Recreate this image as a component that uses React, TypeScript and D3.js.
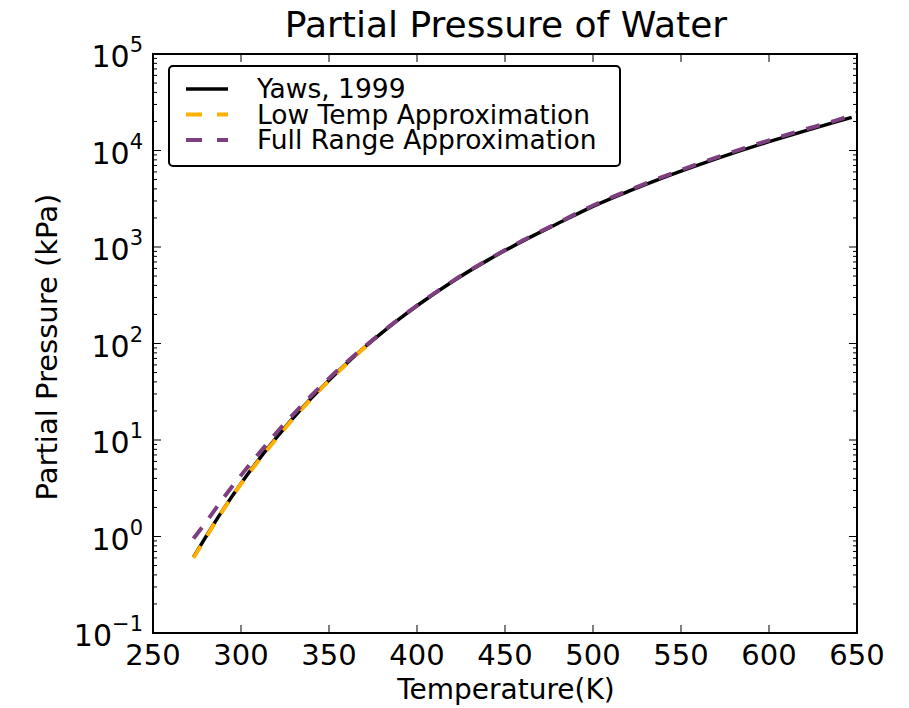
import React, { useEffect, useRef } from "react";
import * as d3 from "d3";

// Yaws, 1999 (K, kPa)
const yawsT = [273, 280, 290, 300, 310, 320, 330, 340, 350, 360, 370, 380, 390, 400, 420, 440, 460, 480, 500, 520, 540, 560, 580, 600, 620, 640, 647];
const yawsP = [0.61, 0.99, 1.92, 3.54, 6.23, 10.5, 17.2, 27.2, 41.7, 62.2, 90.8, 129, 180, 246, 437, 727, 1150, 1750, 2640, 3770, 5240, 7100, 9450, 12340, 15900, 20260, 22060];

const lowT = [273, 280, 290, 300, 310, 320, 330, 340, 350, 360, 373];
const lowP = [0.6, 0.97, 1.9, 3.5, 6.1, 10.3, 16.9, 26.8, 41.2, 61.5, 101];

const fullT = [273, 280, 290, 300, 310, 320, 330, 340, 350, 360, 370, 380, 390, 400, 420, 440, 460, 480, 500, 520, 540, 560, 580, 600, 620, 640, 650];
const fullP = [0.95, 1.4, 2.5, 4.3, 7.2, 11.8, 18.7, 28.9, 43.5, 64, 92, 130, 181, 247, 440, 733, 1165, 1775, 2690, 3850, 5370, 7300, 9750, 12750, 16450, 21000, 24500];

const xTicks = [250, 300, 350, 400, 450, 500, 550, 600, 650];
const yExps = [-1, 0, 1, 2, 3, 4, 5];

const series = [
  { name: "Yaws, 1999", t: yawsT, p: yawsP, color: "#000000", width: 3.5, dash: null as string | null },
  { name: "Low Temp Approximation", t: lowT, p: lowP, color: "#ffb000", width: 4, dash: "14,12" },
  { name: "Full Range Approximation", t: fullT, p: fullP, color: "#7e3f7e", width: 4, dash: "14,12" },
];

const W = 909, H = 708;
const m = { left: 153, right: 857, top: 54, bottom: 633 };
const font = "DejaVu Sans, sans-serif";

export default function App() {
  const ref = useRef<SVGSVGElement>(null);

  useEffect(() => {
    const svg = d3.select(ref.current);
    svg.selectAll("*").remove();

    const x = d3.scaleLinear().domain([250, 650]).range([m.left, m.right]);
    const y = d3.scaleLog().domain([0.1, 1e5]).range([m.bottom, m.top]);

    const g = svg.append("g");

    // lines
    series.forEach(s => {
      const line = d3.line<number>()
        .x((d, i) => x(s.t[i]))
        .y(d => y(d))
        .curve(d3.curveMonotoneX);
      g.append("path")
        .attr("d", line(s.p))
        .attr("fill", "none")
        .attr("stroke", s.color)
        .attr("stroke-width", s.width)
        .attr("stroke-dasharray", s.dash)
        .attr("stroke-linecap", "butt");
    });

    // ticks
    const tg = svg.append("g").attr("stroke", "#000").attr("stroke-width", 1);
    xTicks.slice(1, -1).forEach(t => {
      tg.append("line").attr("x1", x(t)).attr("x2", x(t)).attr("y1", m.bottom).attr("y2", m.bottom - 8);
      tg.append("line").attr("x1", x(t)).attr("x2", x(t)).attr("y1", m.top).attr("y2", m.top + 8);
    });
    yExps.forEach(e => {
      const v = Math.pow(10, e);
      if (e > -1 && e < 5) {
        tg.append("line").attr("x1", m.left).attr("x2", m.left + 8).attr("y1", y(v)).attr("y2", y(v));
        tg.append("line").attr("x1", m.right).attr("x2", m.right - 8).attr("y1", y(v)).attr("y2", y(v));
      }
      if (e < 5) {
        for (let k = 2; k <= 9; k++) {
          const yy = y(v * k);
          tg.append("line").attr("x1", m.left).attr("x2", m.left + 4).attr("y1", yy).attr("y2", yy);
          tg.append("line").attr("x1", m.right).attr("x2", m.right - 4).attr("y1", yy).attr("y2", yy);
        }
      }
    });

    // frame
    svg.append("rect")
      .attr("x", m.left).attr("y", m.top)
      .attr("width", m.right - m.left).attr("height", m.bottom - m.top)
      .attr("fill", "none").attr("stroke", "#000").attr("stroke-width", 2);

    // x labels
    xTicks.forEach(t => {
      svg.append("text")
        .attr("x", x(t)).attr("y", 665)
        .attr("text-anchor", "middle")
        .attr("font-family", font).attr("font-size", 29)
        .text(String(t));
    });

    // y labels
    yExps.forEach(e => {
      const tx = svg.append("text")
        .attr("x", 143).attr("y", y(Math.pow(10, e)) + 13)
        .attr("text-anchor", "end")
        .attr("font-family", font).attr("font-size", 30);
      tx.append("tspan").text("10");
      tx.append("tspan").attr("dy", -15).attr("font-size", 21).text(e < 0 ? "\u2212" + Math.abs(e) : String(e));
    });

    // axis titles
    svg.append("text")
      .attr("x", 506).attr("y", 699)
      .attr("text-anchor", "middle")
      .attr("font-family", font).attr("font-size", 28)
      .text("Temperature(K)");
    svg.append("text")
      .attr("transform", `translate(57,347) rotate(-90)`)
      .attr("text-anchor", "middle")
      .attr("font-family", font).attr("font-size", 29)
      .text("Partial Pressure (kPa)");
    svg.append("text")
      .attr("x", 506).attr("y", 37)
      .attr("text-anchor", "middle")
      .attr("font-family", font).attr("font-size", 36)
      .text("Partial Pressure of Water");

    // legend
    const lg = svg.append("g");
    lg.append("rect")
      .attr("x", 169).attr("y", 66).attr("width", 451).attr("height", 100)
      .attr("rx", 4)
      .attr("fill", "#fff").attr("stroke", "#000").attr("stroke-width", 2);
    series.forEach((s, i) => {
      const ly = 89 + i * 25.5;
      lg.append("line")
        .attr("x1", 186).attr("x2", 228).attr("y1", ly).attr("y2", ly)
        .attr("stroke", s.color).attr("stroke-width", s.width)
        .attr("stroke-dasharray", s.dash ? "16,15" : null);
      lg.append("text")
        .attr("x", 257).attr("y", ly + 9)
        .attr("font-family", font).attr("font-size", 26.5)
        .text(s.name);
    });
  }, []);

  return (
    <svg
      ref={ref}
      width={W}
      height={H}
      style={{ display: "block", position: "absolute", left: 0, top: 0 }}
    />
  );
}
